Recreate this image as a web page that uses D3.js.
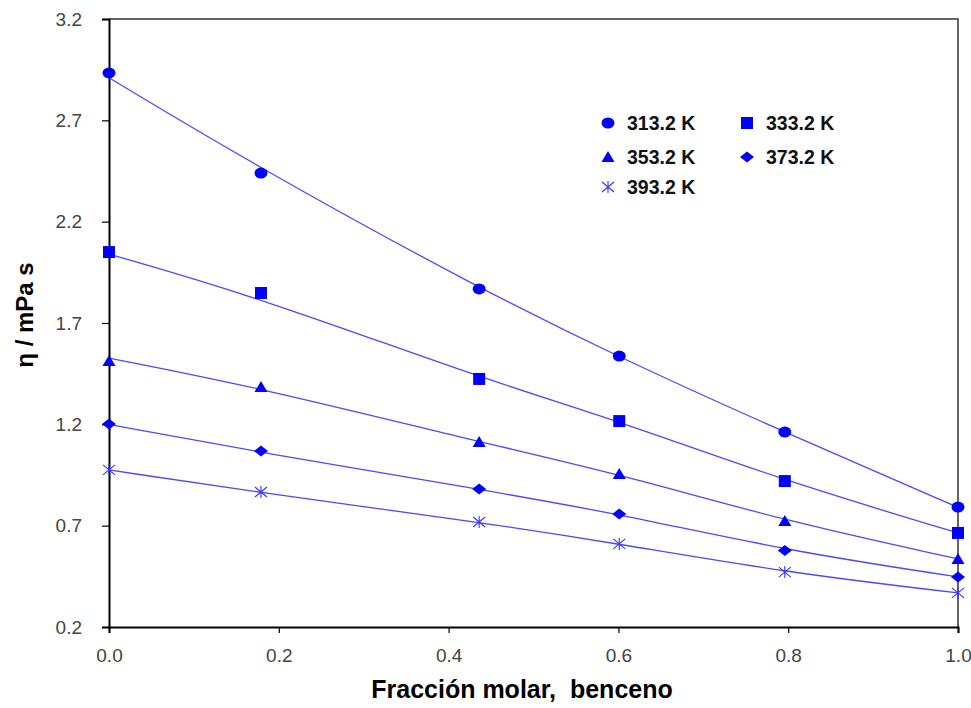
<!DOCTYPE html>
<html>
<head>
<meta charset="utf-8">
<script src="https://cdn.jsdelivr.net/npm/d3@7"></script>
<style>
  body { margin: 0; background: #fff; }
  text { font-family: "Liberation Sans", Arial, sans-serif; }
</style>
</head>
<body>
<div id="chart"></div>
<script>
// data
const temps = ["313.2 K", "333.2 K", "353.2 K", "373.2 K", "393.2 K"];
const shapes = ["circle", "square", "triangle", "diamond", "asterisk"];
const xFrac = [0, 0.179, 0.436, 0.601, 0.796, 1.0];
const eta313 = [2.934, 2.44, 1.868, 1.537, 1.162, 0.792];
const eta333 = [2.05, 1.848, 1.424, 1.216, 0.92, 0.664];
const eta353 = [1.513, 1.384, 1.113, 0.955, 0.723, 0.536];
const eta373 = [1.202, 1.068, 0.881, 0.758, 0.578, 0.447];
const eta393 = [0.975, 0.866, 0.718, 0.61, 0.471, 0.368];
// fitted curves (as drawn)
const fit313 = [2.91, 2.46, 1.87, 1.53, 1.16, 0.79];
const fit333 = [2.04, 1.823, 1.43, 1.216, 0.92, 0.664];
const fit353 = [1.527, 1.379, 1.113, 0.955, 0.723, 0.536];
const fit373 = [1.2, 1.06, 0.88, 0.758, 0.578, 0.447];
const fit393 = [0.975, 0.862, 0.718, 0.61, 0.47, 0.368];
const xTicks = [0, 0.2, 0.4, 0.6, 0.8, 1.0];
const yTicks = [0.2, 0.7, 1.2, 1.7, 2.2, 2.7, 3.2];

const points = [eta313, eta333, eta353, eta373, eta393];
const fits = [fit313, fit333, fit353, fit373, fit393];

// set the dimensions and margins of the graph
const margin = { top: 19, right: 13, bottom: 81, left: 109 },
  width = 971 - margin.left - margin.right,
  height = 708 - margin.top - margin.bottom;

const svg = d3
  .select("#chart")
  .append("svg")
  .attr("width", width + margin.left + margin.right)
  .attr("height", height + margin.top + margin.bottom)
  .append("g")
  .attr("transform", `translate(${margin.left},${margin.top})`);

const x = d3.scaleLinear().domain([0, 1]).range([0, width]);
const y = d3.scaleLinear().domain([0.2, 3.2]).range([height, 0]);

// frame (top + right)
svg
  .append("path")
  .attr("d", `M0,0H${width}V${height}`)
  .attr("fill", "none")
  .attr("stroke", "#333")
  .attr("stroke-width", 1.5);

const xAxis = svg
  .append("g")
  .attr("transform", `translate(0, ${height})`)
  .call(
    d3.axisBottom(x).tickValues(xTicks).tickFormat(d3.format(".1f")).tickSize(6).tickPadding(16)
  );

const yAxis = svg
  .append("g")
  .call(
    d3.axisLeft(y).tickValues(yTicks).tickFormat(d3.format(".1f")).tickSize(7).tickPadding(20)
  );

[xAxis, yAxis].forEach((a) => {
  a.select(".domain").attr("stroke", "#000").attr("stroke-width", 2);
  a.selectAll(".tick line").attr("stroke", "#000").attr("stroke-width", 1.2);
  a.selectAll(".tick text")
    .attr("fill", "#444")
    .attr("font-size", 19)
    .attr("font-family", "Liberation Sans, Arial, sans-serif");
});

svg
  .append("text")
  .attr("text-anchor", "middle")
  .attr("x", 522 - margin.left)
  .attr("y", 698 - margin.top)
  .attr("font-size", 25)
  .attr("font-weight", "bold")
  .style("white-space", "pre")
  .text("Fracción molar,  benceno");

svg
  .append("text")
  .attr("text-anchor", "middle")
  .attr("transform", "rotate(-90)")
  .attr("x", -height / 2 + 8)
  .attr("y", 33 - margin.left)
  .attr("font-size", 24)
  .attr("font-weight", "bold")
  .text("η / mPa s");

// fitted lines
const line = d3
  .line()
  .x((d) => x(d[0]))
  .y((d) => y(d[1]))
  .curve(d3.curveBasis);

svg
  .append("g")
  .selectAll("path")
  .data(fits)
  .join("path")
  .attr("d", (f) => line(xFrac.map((v, i) => [v, f[i]])))
  .attr("fill", "none")
  .attr("stroke", "#4a4aff")
  .attr("stroke-width", 1.3);

const drawMarker = function (g, shape) {
  if (shape === "circle") {
    g.append("ellipse").attr("rx", 6.5).attr("ry", 5.5).attr("fill", "#0000ff");
  } else if (shape === "square") {
    g.append("rect").attr("x", -6).attr("y", -6).attr("width", 12).attr("height", 12).attr("fill", "#0000ff");
  } else if (shape === "triangle") {
    g.append("path").attr("d", "M0,-6L6.5,5L-6.5,5Z").attr("fill", "#0000ff");
  } else if (shape === "diamond") {
    g.append("path").attr("d", "M0,-5.5L7,0L0,5.5L-7,0Z").attr("fill", "#0000ff");
  } else {
    g.append("path")
      .attr("d", "M0,-6V6M-6,-5L6,5M-6,5L6,-5")
      .attr("fill", "none")
      .attr("stroke", "#3535ff")
      .attr("stroke-width", 1.1);
  }
};

// markers
points.forEach((s, k) => {
  xFrac.forEach((v, i) => {
    const g = svg.append("g").attr("transform", `translate(${x(v)},${y(s[i])})`);
    drawMarker(g, shapes[k]);
  });
});

// legend
const legend = svg.append("g").attr("transform", `translate(${608 - margin.left},${123 - margin.top})`);
const colX = [0, 139];
const rowY = [0, 34, 64];
temps.forEach((t, i) => {
  const g = legend
    .append("g")
    .attr("transform", `translate(${colX[i % 2]},${rowY[Math.floor(i / 2)]})`);
  drawMarker(g, shapes[i]);
  g.append("text")
    .attr("x", 19)
    .attr("dy", "0.36em")
    .attr("font-size", 19.5)
    .attr("font-weight", "bold")
    .attr("fill", "#111")
    .text(t);
});
</script>
</body>
</html>
